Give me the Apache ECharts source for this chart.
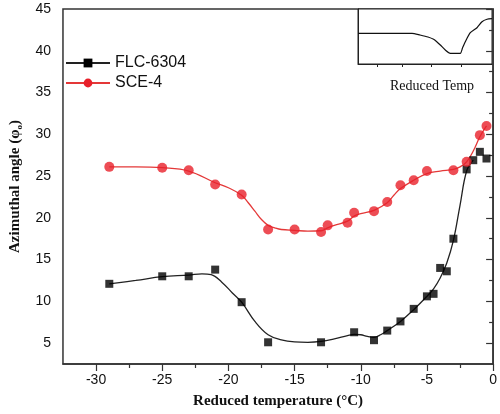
<!DOCTYPE html>
<html>
<head>
<meta charset="utf-8">
<script src="https://cdn.jsdelivr.net/npm/echarts@6/dist/echarts.min.js"></script>
<style>html,body{margin:0;padding:0;background:#fff}#c{width:500px;height:414px}</style>
</head>
<body>
<div id="c"></div>
<script>
// ---- data ----
const flcX = [-29,-25,-23,-21,-19,-17,-13,-10.5,-9,-8,-7,-6,-5,-4.5,-4,-3.5,-3,-2,-1.5,-1,-0.5];
const flcY = [12.1,13.0,13.0,13.8,9.9,5.1,5.1,6.3,5.35,6.5,7.6,9.1,10.6,10.9,14.0,13.6,17.5,25.8,26.9,27.9,27.1];
const sceX = [-29,-25,-23,-21,-19,-17,-15,-13,-12.5,-11,-10.5,-9,-8,-7,-6,-5,-3,-2,-1,-0.5];
const sceY = [26.1,26.0,25.7,24.0,22.8,18.6,18.6,18.3,19.1,19.4,20.6,20.8,21.9,23.9,24.5,25.6,25.7,26.7,29.9,31.0];

const flcFitX = [-29,-27,-25,-23,-22,-21.3,-20.5,-19.7,-19,-18,-17,-16,-15,-14,-13,-12,-11,-10.5,-10,-9.5,-9,-8.5,-8,-7,-6,-5,-4.5,-4,-3.5,-3,-2.5,-2,-1.5];
const flcFitY = [12.1,12.5,12.95,13.15,13.3,13.2,12.3,11.0,9.9,7.6,6.0,5.4,5.15,5.1,5.2,5.5,5.9,6.05,6.0,5.8,5.7,6.0,6.5,7.6,9.0,10.6,11.5,12.8,14.6,17.3,21.5,25.6,26.9];
const sceFitX = [-29,-27,-25,-23,-21,-20,-19,-18.5,-18,-17.5,-17,-16.5,-16,-15,-14,-13,-12.5,-12,-11,-10.5,-10,-9,-8,-7.5,-7,-6,-5,-4,-3,-2.5,-2,-1.5,-1,-0.5];
const sceFitY = [26.1,26.1,26.0,25.6,24.2,23.6,22.7,21.8,20.8,19.8,19.1,18.8,18.6,18.5,18.4,18.45,18.8,19.1,19.6,20.2,20.5,20.9,21.8,22.7,23.5,24.5,25.3,25.6,25.8,26.1,26.7,28.0,29.7,31.0];

// inset curve (arbitrary units)
const insetX = [0,54,62,70,75.6,79,82.3,87.3,92.3,102.3,104.5,107.3,112.3,119,124,129,134];
const insetY = [30.7,30.7,29,27,24.7,22,19,14,10.7,10.7,16,22.3,31.3,36.3,42.3,44.7,45.3];
const insetTicks = [19,44,73.3,103.3];

const xMajor = [-30,-25,-20,-15,-10,-5,0];
const xMinor = [-27.5,-22.5,-17.5,-12.5,-7.5,-2.5];
const yMajor = [5,10,15,20,25,30,35,40,45];
const yMinor = [7.5,12.5,17.5,22.5,27.5,32.5,37.5,42.5];

const pair = (xs, ys) => xs.map((x, i) => [x, ys[i]]);

const sans = 'Liberation Sans, Arial, sans-serif';
const serif = 'Liberation Serif, Times New Roman, serif';
const axisCol = '#333';

const chart = echarts.init(document.getElementById('c'), null, {renderer: 'canvas'});
chart.setOption({
  animation: false,
  grid: [
    {left: 53, right: 5, top: 9, bottom: 48, show: true, borderColor: axisCol, borderWidth: 1.5, backgroundColor: 'transparent'},
    {left: 358, top: 9, width: 134, height: 55, show: true, borderColor: '#222', borderWidth: 1, backgroundColor: '#fff'}
  ],
  legend: {
    left: 60, top: 50, orient: 'vertical', itemGap: 4, itemWidth: 44, itemHeight: 11,
    textStyle: {fontFamily: sans, fontSize: 16, color: '#111'},
    data: ['FLC-6304', 'SCE-4']
  },
  xAxis: [
    {gridIndex: 0, type: 'value', min: -32.5, max: 0,
      name: 'Reduced temperature (°C)', nameLocation: 'middle', nameGap: 30,
      nameTextStyle: {fontFamily: serif, fontWeight: 'bold', fontSize: 15, color: '#111'},
      axisLine: {show: true, lineStyle: {color: axisCol, width: 1.5}},
      axisTick: {show: true, inside: false, length: 7, customValues: xMajor, lineStyle: {color: axisCol, width: 1.2}},
      axisLabel: {show: true, customValues: xMajor, margin: 9, fontFamily: sans, fontSize: 14, color: '#111'},
      splitLine: {show: false}},
    {gridIndex: 0, type: 'value', min: -32.5, max: 0, position: 'bottom',
      axisLine: {show: false},
      axisTick: {show: true, inside: false, length: 4, customValues: xMinor, lineStyle: {color: axisCol, width: 1.2}},
      axisLabel: {show: false}, splitLine: {show: false}},
    {gridIndex: 1, type: 'value', min: 0, max: 134,
      name: 'Reduced Temp', nameLocation: 'middle', nameGap: 15,
      nameTextStyle: {fontFamily: serif, fontSize: 14, color: '#111', padding: [0, 0, 0, 14]},
      axisLine: {show: true, lineStyle: {color: '#222', width: 1}},
      axisTick: {show: true, inside: false, length: 3, customValues: insetTicks, lineStyle: {color: '#222'}},
      axisLabel: {show: false}, splitLine: {show: false}}
  ],
  yAxis: [
    {gridIndex: 0, type: 'value', min: 2.5, max: 45,
      name: 'Azimuthal angle (φ{sub|o})', nameLocation: 'middle', nameGap: 35, nameRotate: 90,
      nameTextStyle: {fontFamily: serif, fontWeight: 'bold', fontSize: 15, color: '#111',
        rich: {sub: {fontFamily: serif, fontWeight: 'bold', fontSize: 9, color: '#111', padding: [9, 0, 0, 0]}}},
      axisLine: {show: true, lineStyle: {color: axisCol, width: 1.5}},
      axisTick: {show: true, inside: false, length: 7, customValues: yMajor, lineStyle: {color: axisCol, width: 1.2}},
      axisLabel: {show: true, customValues: yMajor, margin: 12, fontFamily: sans, fontSize: 14, color: '#111'},
      splitLine: {show: false}},
    {gridIndex: 0, type: 'value', min: 2.5, max: 45, position: 'left',
      axisLine: {show: false},
      axisTick: {show: true, inside: false, length: 4, customValues: yMinor, lineStyle: {color: axisCol, width: 1.2}},
      axisLabel: {show: false}, splitLine: {show: false}},
    {gridIndex: 1, type: 'value', min: 0, max: 55,
      axisLine: {show: true, lineStyle: {color: '#222', width: 1}},
      axisTick: {show: false}, axisLabel: {show: false}, splitLine: {show: false}}
  ],
  series: [
    {name: 'FLC-6304', type: 'line', xAxisIndex: 0, yAxisIndex: 0, data: pair(flcFitX, flcFitY),
      smooth: 0.4, showSymbol: false, symbol: 'rect', symbolSize: 9,
      lineStyle: {color: '#222', width: 1.3}, itemStyle: {color: '#000'}, z: 2},
    {name: 'SCE-4', type: 'line', xAxisIndex: 0, yAxisIndex: 0, data: pair(sceFitX, sceFitY),
      smooth: 0.4, showSymbol: false, symbol: 'circle', symbolSize: 11,
      lineStyle: {color: '#e43838', width: 1.3}, itemStyle: {color: '#e8202a'}, z: 2},
    {name: 'FLC-6304', type: 'scatter', xAxisIndex: 0, yAxisIndex: 0, data: pair(flcX, flcY),
      symbol: 'rect', symbolSize: 8, itemStyle: {color: '#000'}, z: 3},
    {name: 'SCE-4', type: 'scatter', xAxisIndex: 0, yAxisIndex: 0, data: pair(sceX, sceY),
      symbol: 'circle', symbolSize: 10, itemStyle: {color: '#e8202a'}, z: 3},
    {name: 'inset', type: 'line', xAxisIndex: 2, yAxisIndex: 2, data: pair(insetX, insetY),
      smooth: 0.2, showSymbol: false, lineStyle: {color: '#111', width: 1.2}, z: 5}
  ]
});
</script>
</body>
</html>
